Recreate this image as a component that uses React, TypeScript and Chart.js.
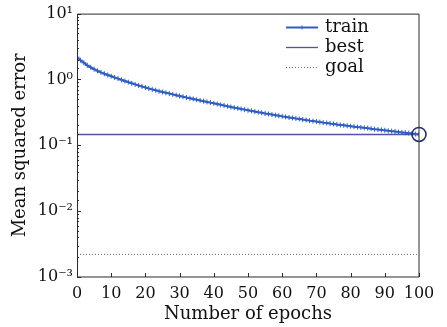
import React, { useEffect, useRef } from "react";
import { Chart, registerables } from "chart.js";

Chart.register(...registerables);

const epochs: number[] = Array.from({ length: 101 }, (_, i) => i);

const trainValues: number[] = [
  2.18, 1.96, 1.79, 1.64, 1.53, 1.43, 1.35, 1.28, 1.22, 1.17,
  1.12, 1.07, 1.03, 0.986, 0.946, 0.910, 0.875, 0.841, 0.811, 0.782,
  0.755, 0.729, 0.706, 0.684, 0.662, 0.644, 0.627, 0.610, 0.593, 0.577,
  0.561, 0.547, 0.532, 0.519, 0.506, 0.492, 0.480, 0.468, 0.456, 0.445,
  0.434, 0.423, 0.412, 0.402, 0.392, 0.382, 0.373, 0.365, 0.356, 0.348,
  0.340, 0.333, 0.325, 0.318, 0.312, 0.305, 0.299, 0.293, 0.287, 0.281,
  0.275, 0.270, 0.265, 0.260, 0.255, 0.251, 0.246, 0.242, 0.237, 0.233,
  0.229, 0.225, 0.221, 0.218, 0.214, 0.211, 0.207, 0.204, 0.201, 0.198,
  0.195, 0.192, 0.189, 0.187, 0.184, 0.182, 0.179, 0.176, 0.174, 0.171,
  0.169, 0.166, 0.164, 0.162, 0.159, 0.157, 0.155, 0.153, 0.151, 0.148,
  0.146,
];

const bestValue = 0.146;
const bestEpoch = 100;
const goalValue = 0.0022;

const xTickValues: number[] = [0, 10, 20, 30, 40, 50, 60, 70, 80, 90, 100];
const yDecadeLabels: Record<string, string> = {
  "10": "10¹",
  "1": "10⁰",
  "0.1": "10⁻¹",
  "0.01": "10⁻²",
  "0.001": "10⁻³",
};

const seriesLabels = ["train", "best", "goal"];

const FONT = "'DejaVu Serif', serif";
const AXIS_COLOR = "#2b2b2b";
const TRAIN_COLOR = "#2f5ec0";
const BEST_COLOR = "#5252a8";
const GOAL_COLOR = "#707070";
const CIRCLE_COLOR = "#2e2e6e";

function isDecade(v: number): boolean {
  const l = Math.log10(v);
  return Math.abs(l - Math.round(l)) < 1e-9;
}

const framePlugin = {
  id: "framePlugin",
  afterDatasetsDraw(chart: any) {
    const { ctx, chartArea, scales } = chart;
    const { left, right, top, bottom } = chartArea;
    ctx.save();
    ctx.strokeStyle = AXIS_COLOR;
    ctx.lineWidth = 1;
    ctx.beginPath();
    ctx.rect(left + 0.5, top + 0.5, right - left - 0.5, bottom - top - 0.5);
    ctx.stroke();
    ctx.beginPath();
    for (const v of xTickValues) {
      const x = Math.round(scales.x.getPixelForValue(v)) + 0.5;
      ctx.moveTo(x, bottom);
      ctx.lineTo(x, bottom - 4);
    }
    for (const t of scales.y.ticks) {
      const y = Math.round(scales.y.getPixelForValue(t.value)) + 0.5;
      const len = isDecade(t.value) ? 4 : 2;
      ctx.moveTo(left, y);
      ctx.lineTo(left + len, y);
    }
    ctx.stroke();

    const datasets = chart.data.datasets;
    const lx0 = 286;
    const lx1 = 318;
    const tx = 325;
    const y0 = 27;
    const dy = 20;
    ctx.font = `18px ${FONT}`;
    ctx.textBaseline = "middle";
    ctx.textAlign = "left";
    seriesLabels.forEach((label, i) => {
      const ds = datasets[i];
      const y = y0 + i * dy + 0.5;
      ctx.save();
      ctx.strokeStyle = ds.borderColor;
      ctx.lineWidth = ds.borderWidth;
      ctx.setLineDash(ds.borderDash || []);
      ctx.beginPath();
      ctx.moveTo(lx0, y);
      ctx.lineTo(lx1, y);
      ctx.stroke();
      ctx.restore();
      if (i === 0) {
        ctx.save();
        ctx.strokeStyle = ds.borderColor;
        ctx.lineWidth = 1;
        const cx = (lx0 + lx1) / 2;
        ctx.beginPath();
        ctx.moveTo(cx - 2, y);
        ctx.lineTo(cx + 2, y);
        ctx.moveTo(cx, y - 2);
        ctx.lineTo(cx, y + 2);
        ctx.stroke();
        ctx.restore();
      }
      ctx.fillStyle = "#111";
      ctx.fillText(label, tx, y);
    });
    ctx.restore();
  },
};

export default function App() {
  const ref = useRef<HTMLCanvasElement | null>(null);

  useEffect(() => {
    document.body.style.margin = "0";
    const canvas = ref.current;
    if (!canvas) return;
    const trainData = epochs.map((e, i) => ({ x: e, y: trainValues[i] }));
    const chart = new Chart(canvas, {
      type: "line",
      data: {
        datasets: [
          {
            label: seriesLabels[0],
            data: trainData,
            borderColor: TRAIN_COLOR,
            backgroundColor: TRAIN_COLOR,
            borderWidth: 2,
            pointStyle: "cross",
            pointRadius: 2.5,
            pointBorderWidth: 1,
            tension: 0,
            order: 1,
          },
          {
            label: seriesLabels[1],
            data: [
              { x: 0, y: bestValue },
              { x: bestEpoch, y: bestValue },
            ],
            borderColor: BEST_COLOR,
            borderWidth: 1.3,
            pointRadius: 0,
            order: 2,
          },
          {
            label: seriesLabels[2],
            data: [
              { x: 0, y: goalValue },
              { x: 100, y: goalValue },
            ],
            borderColor: GOAL_COLOR,
            borderWidth: 1,
            borderDash: [1, 2],
            pointRadius: 0,
            order: 3,
          },
          {
            label: "bestPoint",
            data: [{ x: bestEpoch, y: bestValue }],
            showLine: false,
            borderColor: CIRCLE_COLOR,
            backgroundColor: "rgba(0,0,0,0)",
            pointStyle: "circle",
            pointRadius: 7,
            pointBorderWidth: 1.6,
            clip: false,
            order: 0,
          } as any,
        ],
      },
      options: {
        animation: false,
        responsive: false,
        maintainAspectRatio: false,
        layout: { padding: { top: 11, right: 28, left: 0, bottom: 0 } },
        plugins: {
          legend: { display: false },
          tooltip: { enabled: false },
        },
        scales: {
          x: {
            type: "linear",
            min: 0,
            max: 100,
            afterBuildTicks: (scale: any) => {
              scale.ticks = xTickValues.map((v) => ({ value: v }));
            },
            afterFit: (scale: any) => {
              scale.height = 50;
            },
            grid: { display: false, drawTicks: false },
            border: { display: false },
            ticks: {
              color: "#111",
              font: { family: FONT, size: 16 },
              padding: 7,
              maxRotation: 0,
              autoSkip: false,
            },
            title: {
              display: true,
              text: "Number of epochs",
              color: "#111",
              font: { family: FONT, size: 18 },
              padding: { top: 0, bottom: 2 },
            },
          },
          y: {
            type: "logarithmic",
            min: 0.001,
            max: 10,
            afterFit: (scale: any) => {
              scale.width = 77;
            },
            grid: { display: false, drawTicks: false },
            border: { display: false },
            ticks: {
              color: "#111",
              font: { family: FONT, size: 16 },
              padding: 4,
              autoSkip: false,
              callback: (v: any) => {
                const key = String(Number(v));
                return yDecadeLabels[key] !== undefined ? yDecadeLabels[key] : "";
              },
            },
            title: {
              display: true,
              text: "Mean squared error",
              color: "#111",
              font: { family: FONT, size: 18 },
              padding: { top: 10, bottom: 0 },
            },
          },
        },
      },
      plugins: [framePlugin],
    });
    return () => chart.destroy();
  }, []);

  return (
    <div style={{ width: 447, height: 327 }}>
      <canvas ref={ref} width={447} height={327} style={{ display: "block" }} />
    </div>
  );
}
